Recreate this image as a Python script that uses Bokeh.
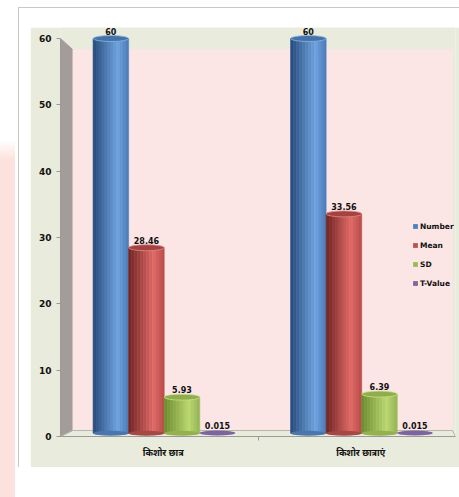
import numpy as np
from bokeh.plotting import figure
from bokeh.layouts import column
from bokeh.models import Range1d, FixedTicker, Legend, LegendItem
from bokeh.core.properties import value
from bokeh.embed import file_html
from bokeh.resources import INLINE

# ---- data ----
categories = ["किशोर छात्र", "किशोर छात्राएं"]
series_names = ["Number", "Mean", "SD", "T-Value"]
number = [60, 60]
mean = [28.46, 33.56]
sd = [5.93, 6.39]
t_value = [0.015, 0.015]
y_ticks = [0, 10, 20, 30, 40, 50, 60]

series_values = [number, mean, sd, t_value]

# ---- styling ----
legend_colors = ["#4F81BD", "#C0504D", "#9BBB59", "#8064A2"]
ramps = [
    ("#274A7A", "#6EA3E0", "#4A7AB6"),
    ("#6E2422", "#E06A66", "#B84A47"),
    ("#6B8A2E", "#BBD870", "#94B454"),
    ("#5E4780", "#9A80C0", "#7A62A0"),
]
GREEN = "#E9EBDC"


def hex2rgb(h):
    h = h.lstrip("#")
    return np.array([int(h[i:i + 2], 16) for i in (0, 2, 4)], dtype=float)


def mix(a, b, t):
    c = hex2rgb(a) * (1 - t) + hex2rgb(b) * t
    return "#%02x%02x%02x" % tuple(int(round(v)) for v in c)


def ramp(dark, light, edge, t):
    if t < 0.7:
        return mix(dark, light, t / 0.7)
    return mix(light, edge, (t - 0.7) / 0.3)


FONT = "DejaVu Sans"
# chart area: page x 30..459, y 27..467 ; frame x 60..455, value 0 at y=436, value 60 at y=38
p = figure(width=429, height=440, output_backend="svg", toolbar_location=None,
           x_range=Range1d(0, 2), y_range=Range1d(0, 61.66),
           min_border_left=30, min_border_right=4, min_border_top=0, min_border_bottom=31)
p.border_fill_color = GREEN
p.background_fill_color = GREEN
p.outline_line_color = None
p.grid.visible = False

# 3D walls
p.patch(x=[0, 0.061, 0.061, 0], y=[60, 58.35, 0.9, 0], fill_color="#A39C99", line_color="#A39C99")
p.quad(left=[0.061], right=[1.985], bottom=[0.9], top=[58.35], fill_color="#FCE5E5", line_color=None)
p.line(x=[0, 0.061, 1.985, 2.0], y=[0, 0.9, 0.9, 0], line_color="#B5B8A8", line_width=1)

# bars as shaded cylinders
bar_w = 0.18
offsets = [(i - 1.5) * bar_w + 0.025 for i in range(4)]
N = 12
base = 0.5
for s, vals in enumerate(series_values):
    dark, light, edge = ramps[s]
    centers = [j + 0.5 + offsets[s] for j in range(len(categories))]
    if series_names[s] != "T-Value":
        for k in range(N):
            t = (k + 0.5) / N
            c = ramp(dark, light, edge, t)
            xs = [cx - bar_w / 2 + (k + 0.5) * bar_w / N for cx in centers]
            p.vbar(x=xs, top=vals, bottom=base, width=bar_w / N, fill_color=c,
                   line_color=c, line_width=0.6)
        p.ellipse(x=centers, y=[base] * len(centers), width=bar_w, height=5, height_units="screen",
                  fill_color=mix(dark, light, 0.5), line_color=None)
        p.ellipse(x=centers, y=vals, width=bar_w, height=6, height_units="screen",
                  fill_color=mix(dark, light, 0.45), line_color=mix(light, "#ffffff", 0.2), line_width=0.8)
    else:
        p.ellipse(x=centers, y=[base + v for v in vals], width=bar_w, height=5, height_units="screen",
                  fill_color=mix(dark, light, 0.5), line_color=None)
    p.text(x=centers, y=[max(v, base) for v in vals], text=[f"{v:g}" for v in vals],
           text_align="center", text_baseline="bottom", y_offset=-4,
           text_font=value(FONT), text_font_size="8px", text_font_style="bold", text_color="#111111")

# legend (proxy renderers placed outside the visible range)
items = []
for s, name in enumerate(series_names):
    r = p.vbar(x=[-5], top=[1], width=0.1, fill_color=legend_colors[s], line_color=None)
    items.append(LegendItem(label=name, renderers=[r]))
legend = Legend(items=items, location=(352, 148), background_fill_alpha=0, border_line_color=None,
                padding=0, margin=0, spacing=9, glyph_width=6, glyph_height=6, label_height=10,
                label_standoff=2, label_text_font=FONT, label_text_font_size="7.5px",
                label_text_font_style="bold", label_text_color="#111111")
p.add_layout(legend)

# axes
yax = p.yaxis[0]
yax.ticker = FixedTicker(ticks=y_ticks)
yax.bounds = (0, 60)
yax.minor_tick_line_color = None
yax.major_tick_out = 4
yax.major_tick_in = 0
yax.major_label_standoff = 5
yax.axis_line_color = "#9A9A9A"
yax.major_tick_line_color = "#9A9A9A"
yax.major_label_text_font = FONT
yax.major_label_text_font_size = "9px"
yax.major_label_text_font_style = "bold"
yax.major_label_text_color = "#111111"

cat_pos = [j + 0.52 for j in range(len(categories))]
xax = p.xaxis[0]
xax.ticker = FixedTicker(ticks=cat_pos, minor_ticks=[1.0])
xax.major_label_overrides = {pos: c for pos, c in zip(cat_pos, categories)}
xax.major_tick_line_color = None
xax.minor_tick_out = 4
xax.minor_tick_in = 0
xax.minor_tick_line_color = "#9A9A9A"
xax.axis_line_color = "#9A9A9A"
xax.major_label_standoff = 3
xax.major_label_text_font = "Noto Sans"
xax.major_label_text_font_size = "9px"
xax.major_label_text_font_style = "bold"
xax.major_label_text_color = "#111111"

p.margin = (19, 0, 0, 11)
box = column(p, margin=(7, 0, 0, 18),
             styles={"border-left": "1px solid #C8C8C8", "border-top": "1px solid #C8C8C8",
                     "background-color": "white"})
root = column(box, width=459, height=497,
              styles={"background": "linear-gradient(to bottom, rgba(252,225,220,0) 0px, rgba(252,225,220,0) 140px, #FCE1DC 160px) 0 0 / 15px 100% no-repeat, white"})

open("out.html", "w").write(file_html(root, INLINE))
